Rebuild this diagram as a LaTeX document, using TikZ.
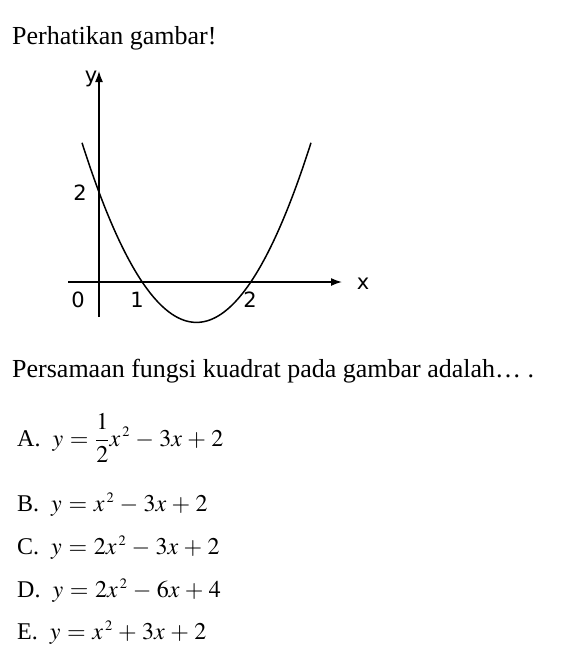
\documentclass[tikz,border=0pt]{standalone}
\usepackage{mathptmx}
\usepackage{fontspec}
\setmainfont{Liberation Serif}
\newfontfamily\graphfont{DejaVu Sans}
\usetikzlibrary{arrows.meta, positioning}
\newcommand{\opteq}[1]{\thickmuskip=5mu\medmuskip=4mu$#1$}
\newcommand{\sqx}{x^{\,\scriptscriptstyle 2}}

\begin{document}
\begin{tikzpicture}[x=1pt, y=-1pt,
    txt/.style={anchor=base west, inner sep=0pt, font=\fontsize{26}{30}\selectfont},
    opt/.style={anchor=base west, inner sep=0pt, font=\fontsize{24}{28}\selectfont},
    lbl/.style={inner sep=0pt, font=\graphfont\fontsize{21}{24}\selectfont},
    axis/.style={line width=1.5pt, -{Latex[length=11pt, width=8pt]}}]
    \useasboundingbox[fill=white] (0,0) rectangle (577,659);
    \node[txt] (title) at (12,44) {Perhatikan gambar!};
    % axes
    \coordinate (xs) at (68,282);
    \coordinate (xe) at (342,282);
    \coordinate (ys) at (99,317);
    \coordinate (ye) at (99,71);
    \draw[axis] (xs) -- (xe);
    \draw[axis] (ys) -- (ye);
    % parabola
    \draw[line width=1.5pt] plot[domain=82:311, samples=80, smooth]
        (\x, {281.7 - 0.0137*(\x-142)*(\x-251)});
    \node[lbl] (ylbl) at (91,79) {y};
    \node[lbl] (xlbl) at (363,284) {x};
    \node[lbl] (two) at (80,193) {2};
    \node[lbl] (zero) at (78,300) {0};
    \node[lbl] (one) at (137,300) {1};
    \node[lbl] (twox) at (250,300) {2};
    % question
    \node[txt] (quest) at (12,377) {Persamaan fungsi kuadrat pada gambar adalah\dots\ .};
    \node[opt] (optA) at (17,446) {A.\hspace{0.5em}\opteq{y=\displaystyle\frac{1}{2}\sqx-3x+2}};
    \node[opt] (optB) at (17,511) {B.\hspace{0.5em}\opteq{y=\sqx-3x+2}};
    \node[opt] (optC) at (17,554) {C.\hspace{0.5em}\opteq{y=2\sqx-3x+2}};
    \node[opt] (optD) at (17,597) {D.\hspace{0.5em}\opteq{y=2\sqx-6x+4}};
    \node[opt] (optE) at (17,639) {E.\hspace{0.5em}\opteq{y=\sqx+3x+2}};
\end{tikzpicture}
\end{document}
